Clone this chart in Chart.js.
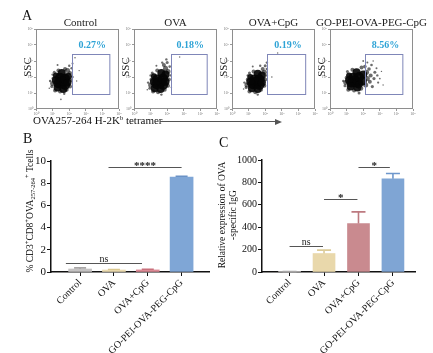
<!DOCTYPE html>
<html><head><meta charset="utf-8">
<script src="https://cdn.jsdelivr.net/npm/chart.js@4.4.1/dist/chart.umd.min.js"></script>
<style>
body{margin:0;background:#fff;width:433px;height:353px;overflow:hidden;position:relative;font-family:'Liberation Serif',serif;}
canvas{position:absolute;}
.lbl{position:absolute;font-family:'Liberation Serif',serif;color:#111;white-space:nowrap;line-height:1;}
.sp{font-size:6.5px;position:relative;top:-4px;}
.sb{font-size:6.5px;position:relative;top:2px;}
</style></head><body>
<canvas id="f0"></canvas><canvas id="f1"></canvas><canvas id="f2"></canvas><canvas id="f3"></canvas>
<canvas id="cb"></canvas><canvas id="cc"></canvas>
<div class="lbl" style="left:22px;top:9px;font-size:14px;">A</div>
<div class="lbl" style="left:33px;top:115px;font-size:11px;">OVA257-264 H-2K<span class="sp">b</span> tetramer</div>
<div style="position:absolute;left:160px;top:121px;width:116px;height:1px;background:#555"></div>
<div style="position:absolute;left:275px;top:118.5px;width:0;height:0;border-top:3px solid transparent;border-bottom:3px solid transparent;border-left:7px solid #555"></div>
<div class="lbl" style="left:23px;top:132px;font-size:14px;">B</div>
<div class="lbl" style="left:219px;top:136px;font-size:14px;">C</div>
<div class="lbl" style="left:-35px;top:205px;width:130px;text-align:center;font-size:9.5px;line-height:12px;transform:rotate(-90deg);transform-origin:65px 6px;">% CD3<span class="sp">+</span>CD8<span class="sp">+</span>OVA<span class="sb">257-264</span><span class="sp">+</span> Tcells</div>
<script>
// ---------- DATA ----------
const flowTitles = ['Control','OVA','OVA+CpG','GO-PEI-OVA-PEG-CpG'];
const flowPct = ['0.27%','0.18%','0.19%','8.56%'];
const flowTickLabels = ['10\u2070','10\u00b9','10\u00b2','10\u00b3','10\u2074','10\u2075'];
const gateX0 = [43,44,42,42];
const gateX1 = [88,87,88,87];
const gateY0 = [19,19,19,19];
const gateY1 = [69,69,69,69];
const cloudControl = [[31,34,6],[27,32,5],[35,30,5],[29,39,5],[35,38,5],[24,36,4],[26,27,4],[33,25,4],[38,33,4],[39,41,3.5],[31,45,4],[24,42,3],[20,32,2.5],[21,38,2],[19,28,1.5],[23,23,2],[29,22,2],[37,24,2],[41,28,2],[42,36,2],[41,45,2],[38,48,2.5],[35,50,2],[27,48,2],[22,46,1.5],[17,35,1.2],[43,51,1.3],[40,54,1.2],[44,57,1],[20,43,1.2],[34,19,1.2],[44,40,1.2],[47,64,0.8],[52,48,0.7],[30,12,0.8],[16,26,0.8],[49,35,0.7],[26,55,1]];
const cloudOVA = [[31,33,6],[27,31,5],[35,30,5],[28,37,5],[35,38,5],[24,34,4],[25,26,4],[32,25,4],[38,34,4],[38,43,4],[33,45,4],[24,41,3],[20,30,2.5],[21,37,2],[19,26,1.5],[23,22,2],[29,21,2],[37,24,2],[41,29,2],[42,37,2],[41,47,2.5],[38,51,2.5],[36,55,2],[40,58,1.5],[28,48,2],[22,45,1.5],[17,33,1.2],[43,53,1.3],[39,62,1.2],[34,58,1.2],[20,42,1.2],[33,18,1.2],[44,42,1.2],[55,65,0.7],[45,27,0.8],[16,24,0.8],[27,54,1]];
const cloudOVACpG = [[29,33,6],[25,31,5],[33,30,5],[27,37,5],[33,37,5],[22,34,4],[24,26,4],[31,25,4],[36,33,4],[36,42,4],[31,44,4],[22,40,3],[18,30,2.5],[19,37,2],[17,27,1.5],[21,22,2],[28,21,2],[35,24,2],[39,29,2],[40,37,2],[39,46,2.5],[37,50,2],[40,54,1.5],[42,58,1.2],[26,47,2],[21,45,1.5],[15,33,1.2],[42,50,1.3],[34,54,1.2],[19,42,1.2],[31,18,1.2],[42,42,1.2],[55,70,0.7],[48,40,0.8],[14,25,0.8],[25,53,1]];
const cloudGO = [[30,35,6],[26,33,5],[34,32,5],[28,39,5],[35,40,5],[23,36,4],[25,28,4],[33,27,4],[39,35,4.5],[40,43,4],[32,46,4],[23,42,3],[19,33,2.5],[20,39,2],[18,29,1.5],[22,24,2],[29,23,2],[37,26,2.5],[43,30,2.5],[45,38,2.5],[44,46,2.5],[48,34,2],[49,42,2],[47,50,1.8],[51,28,1.6],[53,38,1.6],[54,46,1.5],[42,53,1.8],[38,52,2],[50,55,1.3],[57,42,1.2],[58,33,1.1],[56,51,1],[60,38,0.9],[45,58,1],[27,49,2],[21,47,1.5],[16,35,1.2],[35,20,1.5],[62,47,0.7],[64,30,0.7],[52,60,0.8],[40,60,0.9]];
const clouds = [cloudControl, cloudOVA, cloudOVACpG, cloudGO];

const categories = ['Control','OVA','OVA+CpG','GO-PEI-OVA-PEG-CpG'];
const bValues = [0.27, 0.18, 0.19, 8.56];
const bErrors = [0.1, 0.05, 0.06, 0.07];
const bTicks = [0,2,4,6,8,10];
const bSigFrom = [-0.42, 0.84];
const bSigTo = [1.83, 3.0];
const bSigY = [0.81, 9.45];
const bSigText = ['ns','****'];

const cValues = [2, 165, 433, 832];
const cErrors = [1, 30, 104, 48];
const cTicks = [0,200,400,600,800,1000];
const cSigFrom = [0, 1.0, 2.0];
const cSigTo = [0.97, 1.97, 2.91];
const cSigY = [233, 651, 935];
const cSigText = ['ns','*','*'];

// ---------- STYLE ----------
Chart.defaults.font.family = "'Liberation Serif', serif";
Chart.defaults.color = '#111';
Chart.defaults.animation = false;
const SERIF = "'Liberation Serif', serif";
const bColors = ['#c4c2c2','#ecdcb2','#dc8a95','#7fa6d6'];
const bErrColors = ['#a8a6a6','#dac78e','#c9707c','#6a92c6'];
const cColors = ['#c4c2c2','#e9d8ab','#c98a8f','#7fa5d4'];
const cErrColors = ['#a8a6a6','#dccb98','#bd7a80','#6e97cc'];

function setCanvas(id, l, t, w, h){
  const c = document.getElementById(id);
  c.width = w; c.height = h; c.style.left = l+'px'; c.style.top = t+'px';
  c.style.width = w+'px'; c.style.height = h+'px';
  return c;
}

// ---------- FLOW PLOTS ----------
const boxLeft = [36,134,232,330];
const boxW = 83;
clouds.forEach((cl, i) => {
  const c = setCanvas('f'+i, boxLeft[i]-20, 15, 20+boxW+20, 105);
  const flowPlugin = {
    id:'flow'+i,
    afterDatasetsDraw(chart){
      const {ctx, chartArea:a, scales:{x,y}} = chart;
      ctx.save();
      ctx.strokeStyle = '#8e8e8e'; ctx.lineWidth = 1;
      ctx.strokeRect(a.left+0.5, a.top+0.5, a.right-a.left-1, a.bottom-a.top-1);
      const gx0 = x.getPixelForValue(gateX0[i]), gx1 = x.getPixelForValue(gateX1[i]);
      const gy0 = y.getPixelForValue(gateY0[i]), gy1 = y.getPixelForValue(gateY1[i]);
      ctx.strokeStyle = '#7f86b8';
      ctx.strokeRect(Math.round(gx0)+0.5, Math.round(gy1)+0.5, gx1-gx0, gy0-gy1);
      ctx.fillStyle = '#2ea3d6'; ctx.font = 'bold 10px '+SERIF;
      ctx.textAlign = 'center'; ctx.textBaseline = 'alphabetic';
      ctx.fillText(flowPct[i], (gx0+gx1)/2+2, gy1-6);
      ctx.fillStyle = '#222'; ctx.font = '11px '+SERIF;
      ctx.fillText(flowTitles[i], (a.left+a.right)/2 + (i===0?3:0), a.top-3);
      ctx.translate(a.left-8, a.top+38); ctx.rotate(-Math.PI/2);
      ctx.textBaseline = 'middle'; ctx.font = '11px '+SERIF;
      ctx.fillText('SSC', 0, 0);
      ctx.restore();
    }
  };
  new Chart(c, {
    type:'bubble',
    data:{datasets:[{
      data: cl.map(p => ({x:p[0], y:p[1], r:p[2]})),
      backgroundColor: ctx => (ctx.raw && ctx.raw.r >= 3) ? 'rgba(5,5,5,0.92)' : 'rgba(10,10,10,0.6)',
      borderWidth:0, hoverBorderWidth:0
    }]},
    options:{
      responsive:false, events:[],
      layout:{padding:{top:14,right:20,left:0,bottom:0}},
      plugins:{legend:{display:false},tooltip:{enabled:false}},
      scales:{
        x:{type:'linear',min:0,max:100,offset:false,
          afterFit(s){s.height=11;},
          afterBuildTicks(s){s.ticks=flowTickLabels.map((_,k)=>({value:k*20}));},
          ticks:{font:{size:4},color:'#777',padding:1,callback:v=>flowTickLabels[v/20]},
          grid:{drawOnChartArea:false,tickLength:2,color:'#999'},border:{display:false}},
        y:{type:'linear',min:0,max:100,offset:false,
          afterFit(s){s.width=20;},
          afterBuildTicks(s){s.ticks=flowTickLabels.map((_,k)=>({value:k*20}));},
          ticks:{font:{size:4},color:'#777',padding:1,callback:v=>flowTickLabels[v/20]},
          grid:{drawOnChartArea:false,tickLength:2,color:'#999'},border:{display:false}}
      }
    },
    plugins:[flowPlugin]
  });
});

// ---------- BAR HELPERS ----------
function barPlugin(name, vals, errs, errCols, capW, sFrom, sTo, sY, sText, extra){
  return {
    id:name,
    afterDatasetsDraw(chart){
      const {ctx, scales:{x,y}} = chart;
      const meta = chart.getDatasetMeta(0);
      ctx.save();
      vals.forEach((v,i)=>{
        const px = meta.data[i].x;
        const y0 = y.getPixelForValue(v), y1 = y.getPixelForValue(v+errs[i]);
        ctx.strokeStyle = errCols[i]; ctx.lineWidth = 1.6;
        ctx.beginPath(); ctx.moveTo(px,y0); ctx.lineTo(px,y1);
        ctx.moveTo(px-capW/2,y1); ctx.lineTo(px+capW/2,y1); ctx.stroke();
      });
      sFrom.forEach((f,k)=>{
        const x0 = x.getPixelForValue(f), x1 = x.getPixelForValue(sTo[k]);
        const py = Math.round(y.getPixelForValue(sY[k]))+0.5;
        ctx.strokeStyle = '#555'; ctx.lineWidth = 1;
        ctx.beginPath(); ctx.moveTo(x0,py); ctx.lineTo(x1,py); ctx.stroke();
        ctx.fillStyle = '#222'; ctx.textAlign='center';
        const isStar = sText[k].indexOf('*')>=0;
        ctx.font = (isStar?'bold 11px ':'10px ')+SERIF;
        ctx.textBaseline='alphabetic';
        ctx.fillText(sText[k], (x0+x1)/2, py + (isStar?1:-2));
      });
      ctx.restore();
      if (extra) extra(ctx);
    }
  };
}
function barOptions(padTop, padRight, yW, xH, xmin, xmax, ymax, yticks, yFont){
  return {
    responsive:false, events:[],
    layout:{padding:{top:padTop,right:padRight,left:0,bottom:0}},
    plugins:{legend:{display:false},tooltip:{enabled:false}},
    scales:{
      x:{type:'linear',min:xmin,max:xmax,offset:false,
        afterFit(s){s.height=xH;},
        afterBuildTicks(s){s.ticks=categories.map((_,i)=>({value:i}));},
        ticks:{autoSkip:false,minRotation:45,maxRotation:45,font:{size:10},color:'#111',padding:1,callback:v=>categories[v]},
        grid:{offset:false,drawOnChartArea:false,tickLength:4,color:'#111',lineWidth:1},
        border:{color:'#111',width:1.5}},
      y:{type:'linear',min:0,max:ymax,
        afterFit(s){s.width=yW;},
        afterBuildTicks(s){s.ticks=yticks.map(v=>({value:v}));},
        ticks:{font:{size:yFont},color:'#111',padding:1,callback:v=>String(v)},
        grid:{drawOnChartArea:false,tickLength:4,color:'#111',lineWidth:1},
        border:{color:'#111',width:1.5}}
    }
  };
}

// ---------- PANEL B ----------
const cB = setCanvas('cb', 0, 130, 215, 223);
new Chart(cB, {
  type:'bar',
  data:{datasets:[{data:categories.map((c,i)=>({x:i,y:bValues[i]})),backgroundColor:bColors,barThickness:23}]},
  options:barOptions(31, 6, 51, 81, -0.86, 3.81, 10, bTicks, 11),
  plugins:[barPlugin('pb', bValues, bErrors, bErrColors, 12, bSigFrom, bSigTo, bSigY, bSigText, null)]
});

// ---------- PANEL C ----------
const cC = setCanvas('cc', 215, 130, 218, 223);
new Chart(cC, {
  type:'bar',
  data:{datasets:[{data:categories.map((c,i)=>({x:i,y:cValues[i]})),backgroundColor:cColors,barThickness:22}]},
  options:barOptions(30, 18, 47, 81, -0.8, 3.64, 1000, cTicks, 10),
  plugins:[barPlugin('pc', cValues, cErrors, cErrColors, 14, cSigFrom, cSigTo, cSigY, cSigText, ctx=>{
    ctx.save(); ctx.fillStyle='#111';
    ctx.translate(0,85); ctx.rotate(-Math.PI/2);
    ctx.font='9.5px '+SERIF; ctx.textAlign='center'; ctx.textBaseline='middle';
    ctx.fillText('Relative expression of OVA', 0, 7);
    ctx.fillText('-specific IgG', 0, 18);
    ctx.restore();
  })]
});
</script>
</body></html>
